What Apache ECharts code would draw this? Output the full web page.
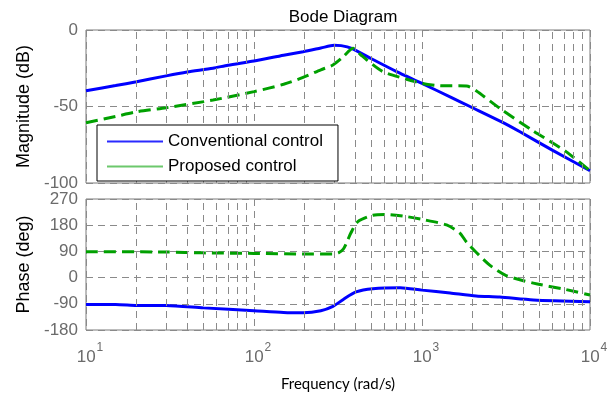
<!DOCTYPE html>
<html>
<head>
<meta charset="utf-8">
<script src="https://cdn.jsdelivr.net/npm/echarts@6/dist/echarts.min.js"></script>
<style>html,body{margin:0;padding:0;background:#fff}#c{width:615px;height:393px}</style>
</head>
<body>
<div id="c"></div>
<script>
// ---- data ----
const seriesNames = ['Conventional control', 'Proposed control'];
const xTickValues = [10, 100, 1000, 10000];
const minorGridFreqs = [20,30,40,50,60,70,80,90,200,300,400,500,600,700,800,900,2000,3000,4000,5000,6000,7000,8000,9000];

const magFreqConv = [10,15,20,30,40,57,70,100,150,196,250,300,330,381,500,706,1000,1500,1930,3000,3830,6000,10000];
const magConv     = [-39.7,-36.3,-33.8,-30,-27.5,-25,-23,-20.3,-16.5,-14.2,-11.8,-10,-10.2,-12,-18.8,-27.2,-34.9,-44.2,-50,-60.2,-66.5,-78.7,-92];

const magFreqProp = [10,15,20,30,57,100,150,196,250,295,340,389,430,470,585,800,1000,1280,1840,2100,2900,4600,7200,10000];
const magProp     = [-60.6,-56.5,-53.5,-50.8,-45.8,-40.3,-35.5,-31,-26,-22.9,-17.5,-12,-16,-19.6,-27.2,-32,-34.9,-36.4,-36.6,-39.7,-51.2,-66,-79.5,-92];

const phFreqConv = [10,15,20,30,50,100,150,196,250,295,340,405,510,740,1000,1470,2100,2900,4600,10000];
const phConv     = [-92,-92,-95.5,-96,-104,-114,-120,-121,-114,-99,-75,-49,-38,-34.6,-43,-53,-63,-67,-77,-83];

const phFreqProp = [10,30,50,100,196,295,320,340,356,377,415,510,610,800,1000,1400,1680,1840,2100,2540,3170,4600,7200,10000];
const phProp     = [89,88,85,83,81,81,86,98,120,153,192,214,217,210,200,181,153,122,87,42,7,-19,-41,-60];

const magTicks = {min: -100, max: 0, interval: 50};
const phaseTicks = {min: -180, max: 270, interval: 90};

// ---- chart ----
const pairs = (xs, ys) => xs.map((x, i) => [x, ys[i]]);
const BLUE = '#0000ff', GREEN = '#00a000';
const gridDash = {color: '#8a8a8a', type: [7, 5], width: 1};
const tickColor = '#6b6b6b';
const arial = 'Liberation Sans, Arial, sans-serif';

function xAxisFor(gi, showLabels) {
  return {
    type: 'log', logBase: 10, gridIndex: gi, min: 10, max: 10000,
    axisLine: {show: false}, axisTick: {show: false},
    splitLine: {show: true, lineStyle: gridDash},
    axisLabel: showLabels ? {
      show: true, margin: 12, color: tickColor,
      formatter: v => '{p|}{b|10}{s|' + Math.round(Math.log10(v)) + '}',
      rich: {
        p: {width: 8},
        b: {fontSize: 17, fontFamily: arial, color: tickColor, verticalAlign: 'bottom', lineHeight: 24},
        s: {fontSize: 12, fontFamily: arial, color: tickColor, verticalAlign: 'top', lineHeight: 24, padding: [0, 0, 0, 1]}
      }
    } : {show: false},
    name: showLabels ? 'Frequency (rad/s)' : '',
    nameLocation: 'middle', nameGap: 47,
    nameTextStyle: {fontSize: 15, color: '#000', fontFamily: 'Lato, Open Sans, sans-serif'}
  };
}
function yAxisFor(gi, ticks, name) {
  return {
    type: 'value', gridIndex: gi, min: ticks.min, max: ticks.max, interval: ticks.interval,
    axisLine: {show: false}, axisTick: {show: false},
    splitLine: {show: true, lineStyle: gridDash},
    axisLabel: {fontSize: 17, color: tickColor, fontFamily: arial, margin: 8},
    name: name, nameLocation: 'middle', nameGap: 50,
    nameTextStyle: {fontSize: 18, color: '#000', fontFamily: arial}
  };
}
function minorGridSeries(gi) {
  return {
    type: 'line', xAxisIndex: gi, yAxisIndex: gi, data: [], z: 1, silent: true,
    markLine: {
      silent: true, symbol: ['none', 'none'], label: {show: false},
      lineStyle: gridDash, animation: false,
      data: minorGridFreqs.map(f => ({xAxis: f}))
    }
  };
}
function curve(name, gi, data, color, dashed) {
  return {
    name: name, type: 'line', xAxisIndex: gi, yAxisIndex: gi, data: data,
    showSymbol: false, smooth: 0.25, z: 3,
    lineStyle: {color: color, width: 3, type: dashed ? [12, 6] : 'solid'},
    itemStyle: {color: color}
  };
}

const chart = echarts.init(document.getElementById('c'), null, {renderer: 'canvas'});
chart.setOption({
  animation: false,
  backgroundColor: '#fff',
  title: {
    text: 'Bode Diagram', left: 338, top: 4, textAlign: 'center',
    textStyle: {fontSize: 17, fontWeight: 'normal', color: '#000', fontFamily: arial}
  },
  grid: [
    {left: 86, right: 25, top: 30, height: 153, show: true, borderColor: '#7a7a7a', borderWidth: 1},
    {left: 86, right: 25, top: 199, height: 135, show: true, borderColor: '#7a7a7a', borderWidth: 1}
  ],
  xAxis: [xAxisFor(0, false), xAxisFor(1, true)],
  yAxis: [yAxisFor(0, magTicks, 'Magnitude (dB)'), yAxisFor(1, phaseTicks, 'Phase (deg)')],
  legend: {
    left: 97, top: 125, orient: 'vertical', z: 10,
    backgroundColor: '#fff', borderColor: '#000', borderWidth: 1, borderRadius: 0,
    padding: [7, 15, 5, 10], itemWidth: 56, itemHeight: 2, itemGap: 6, icon: 'rect',
    textStyle: {fontSize: 17, color: '#000', fontFamily: arial, lineHeight: 19},
    data: [
      {name: seriesNames[0], itemStyle: {color: '#2a2aff'}},
      {name: seriesNames[1], itemStyle: {color: '#6cc86c'}}
    ]
  },
  series: [
    minorGridSeries(0),
    minorGridSeries(1),
    curve(seriesNames[0], 0, pairs(magFreqConv, magConv), BLUE, false),
    curve(seriesNames[1], 0, pairs(magFreqProp, magProp), GREEN, true),
    curve(seriesNames[0], 1, pairs(phFreqConv, phConv), BLUE, false),
    curve(seriesNames[1], 1, pairs(phFreqProp, phProp), GREEN, true)
  ]
});
</script>
</body>
</html>
